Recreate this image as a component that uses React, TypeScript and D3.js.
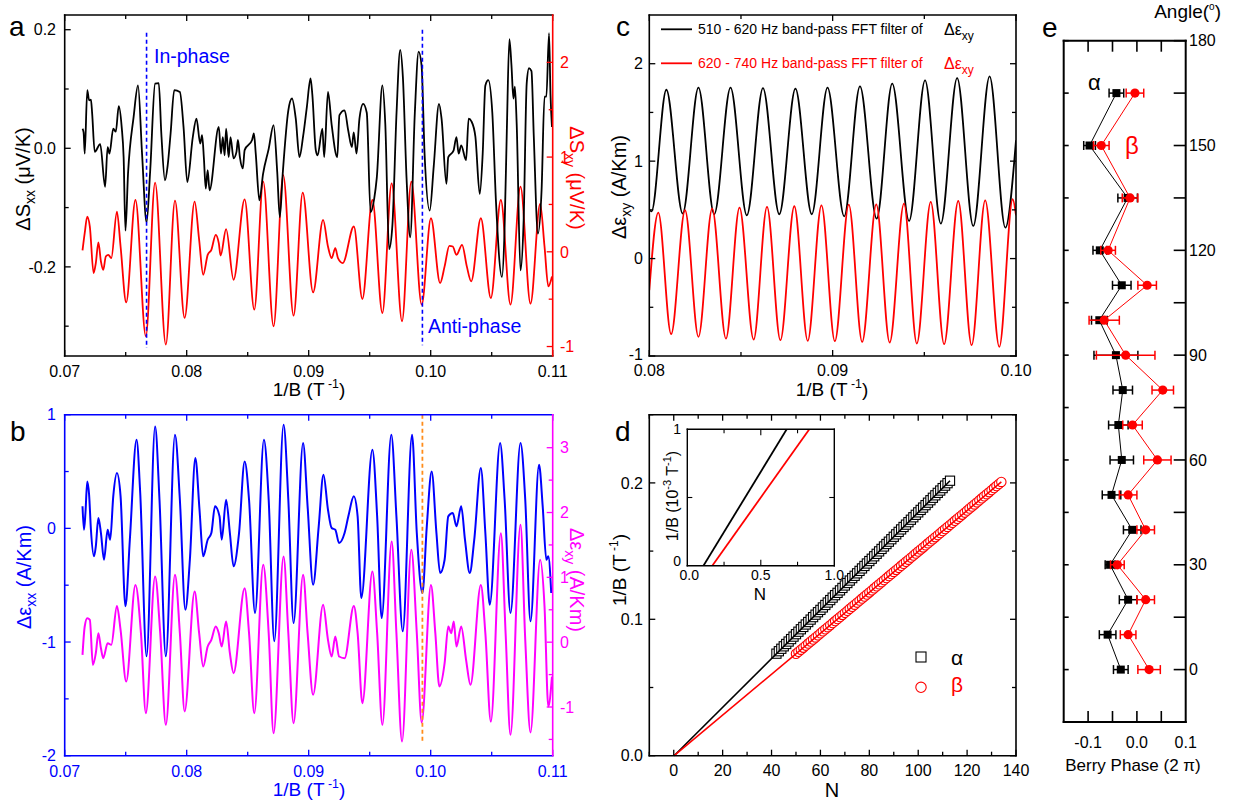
import React from "react";
import * as d3 from "d3";

const FONT = "'Liberation Sans', Arial, Helvetica, sans-serif";

// ---------- Panel a: ΔSxx (left, black) and ΔSxy (right, red) vs 1/B ----------
const aSxx: [number, number][] = [
  [0.07146,0.033],[0.07155,0.027],[0.07164,-0.009],[0.07185,0.098],[0.072,0.081],[0.07215,0.082],[0.07225,0.059],[0.07246,-0.006],[0.07291,0.007],[0.07331,-0.065],[0.07352,0.002],[0.07367,-0.009],[0.07398,0.033],[0.07419,0.028],[0.07443,0.071],[0.07467,0.036],[0.07483,-0.015],[0.07498,-0.139],[0.07519,-0.043],[0.07565,0.053],[0.07601,0.106],[0.07634,-0.009],[0.07671,-0.125],[0.07701,-0.037],[0.07741,0.109],[0.07771,0.110],[0.07792,0.025],[0.07822,-0.054],[0.07844,-0.029],[0.07868,0.025],[0.07898,0.098],[0.07944,0.095],[0.07974,0.036],[0.08005,-0.057],[0.0805,0.019],[0.0808,0.050],[0.08111,0.008],[0.08126,0.022],[0.08141,-0.017],[0.08156,-0.068],[0.08172,-0.037],[0.08187,-0.071],[0.08263,0.036],[0.08281,-0.009],[0.08296,0.019],[0.08311,-0.012],[0.08323,0.033],[0.08344,-0.015],[0.08359,0.019],[0.08384,-0.017],[0.08408,-0.006],[0.0842,0.014],[0.08436,-0.015],[0.0846,-0.034],[0.08475,-0.003],[0.08536,0.014],[0.08551,0.025],[0.08566,-0.009],[0.08596,-0.088],[0.08626,-0.043],[0.08672,-0.001],[0.08712,0.039],[0.08742,-0.04],[0.08763,-0.116],[0.08787,-0.043],[0.08833,0.064],[0.08863,0.084],[0.08894,0.05],[0.08924,-0.015],[0.08954,0.02],[0.08985,0.07],[0.09015,0.118],[0.0903,0.09],[0.09058,-0.003],[0.09073,-0.012],[0.09112,0.033],[0.09127,-0.015],[0.09158,0.095],[0.09188,0.04],[0.09234,-0.015],[0.09252,0.056],[0.09294,0.064],[0.09324,0.03],[0.09354,0.002],[0.09369,0.027],[0.09392,-0.009],[0.09416,0.05],[0.09446,0.075],[0.09476,0.06],[0.09507,-0.108],[0.09537,-0.085],[0.09558,-0.05],[0.09604,0.106],[0.09628,0.04],[0.09659,-0.170],[0.09686,-0.13],[0.0972,0.06],[0.0975,0.166],[0.09772,0.12],[0.09802,-0.05],[0.09832,-0.150],[0.0987,0.06],[0.09901,0.163],[0.09925,0.14],[0.0995,-0.01],[0.09992,-0.105],[0.10025,-0.03],[0.10068,0.075],[0.10089,0.05],[0.10129,-0.06],[0.10144,-0.015],[0.10187,-0.004],[0.10211,0.019],[0.10229,-0.009],[0.1025,0.005],[0.1029,-0.02],[0.10311,0.05],[0.10335,0.045],[0.10366,0.02],[0.10402,-0.077],[0.10426,-0.01],[0.10448,0.106],[0.10472,0.115],[0.10505,0.06],[0.10535,-0.09],[0.10584,-0.217],[0.10605,-0.14],[0.10624,0.03],[0.10645,0.184],[0.10662,0.14],[0.10678,0.084],[0.1069,0.104],[0.10705,0.04],[0.10736,-0.206],[0.10762,-0.12],[0.10787,0.11],[0.10806,0.135],[0.10826,0.13],[0.10845,0.02],[0.10879,-0.144],[0.10909,-0.07],[0.10933,0.087],[0.10948,0.087],[0.1097,0.194],[0.10982,0.09],[0.10994,0.036],
];
const aSxy: [number, number][] = [
  [0.07146,0.014],[0.07164,0.196],[0.07185,0.372],[0.07206,0.267],[0.07237,-0.225],[0.07255,-0.119],[0.07276,0.098],[0.07297,-0.102],[0.07316,-0.19],[0.07337,-0.049],[0.07358,-0.032],[0.07382,-0.067],[0.07428,0.425],[0.07458,0.056],[0.07504,-0.533],[0.0758,0.547],[0.07665,-0.891],[0.07741,0.73],[0.07829,-0.979],[0.07904,0.54],[0.07983,-0.698],[0.08065,0.53],[0.08102,0.126],[0.08135,-0.242],[0.08172,-0.032],[0.08202,0.021],[0.08238,0.179],[0.08263,0.091],[0.08278,-0.039],[0.08323,0.239],[0.08384,-0.295],[0.08475,0.554],[0.08554,-0.61],[0.08627,0.74],[0.08712,-0.786],[0.08791,0.81],[0.08876,-0.674],[0.08951,0.625],[0.09036,-0.428],[0.09118,0.337],[0.09158,0.056],[0.09188,-0.067],[0.09218,0.039],[0.0924,-0.067],[0.09279,-0.119],[0.0937,0.267],[0.0944,-0.498],[0.09522,0.547],[0.09604,-0.646],[0.0968,0.723],[0.09765,-0.733],[0.09841,0.74],[0.09926,-0.558],[0.10002,0.354],[0.10077,-0.33],[0.10114,-0.154],[0.10153,0.063],[0.10181,0.056],[0.10211,-0.032],[0.10257,0.074],[0.10296,-0.154],[0.10332,-0.312],[0.10411,0.354],[0.10493,-0.488],[0.10575,0.547],[0.10654,-0.558],[0.10736,0.688],[0.10818,-0.547],[0.10897,0.505],[0.10933,0.056],[0.10964,-0.365],[0.10994,-0.26],
];
const aInPhase = { x: 0.07671, y0: -0.337, y1: 0.195 };
const aAntiPhase = { x: 0.09932, y0: -0.332, y1: 0.2 };

// ---------- Panel b: Δεxx (left, blue) and Δεxy (right, magenta) ----------
const bExx: [number, number][] = [
  [0.07146,0.194],[0.07158,-0.012],[0.0717,0.135],[0.07185,0.413],[0.072,0.296],[0.07215,-0.012],[0.0724,-0.246],[0.07255,-0.158],[0.07276,0.091],[0.07297,-0.041],[0.07322,-0.276],[0.07352,-0.012],[0.07373,-0.1],[0.07398,0.282],[0.07428,0.487],[0.07458,0.282],[0.07498,-0.686],[0.07534,-0.1],[0.07589,0.78],[0.07619,0.311],[0.07671,-1.126],[0.07741,0.897],[0.07777,0.252],[0.07829,-1.126],[0.07904,0.824],[0.07944,0.252],[0.07989,-0.716],[0.08026,-0.276],[0.08071,0.619],[0.08105,0.164],[0.08135,-0.246],[0.08172,-0.1],[0.08202,-0.041],[0.08232,0.194],[0.08269,0.106],[0.08287,-0.1],[0.08323,0.252],[0.08354,-0.041],[0.08384,-0.334],[0.08429,-0.041],[0.08475,0.589],[0.08511,0.252],[0.0856,-0.745],[0.08633,0.78],[0.08672,0.252],[0.08718,-0.994],[0.08794,0.912],[0.08833,0.252],[0.08876,-0.833],[0.08954,0.751],[0.08991,0.194],[0.09036,-0.496],[0.09082,0.018],[0.09121,0.472],[0.09158,0.164],[0.09188,0.003],[0.09218,-0.012],[0.09249,-0.129],[0.09294,-0.041],[0.09325,0.106],[0.0937,0.282],[0.09401,0.106],[0.09431,-0.613],[0.09522,0.692],[0.09561,0.106],[0.09598,-0.789],[0.09677,0.824],[0.09719,0.106],[0.09771,-0.906],[0.09847,0.824],[0.09886,-0.041],[0.09932,-0.569],[0.09968,0.018],[0.10008,0.501],[0.10047,-0.041],[0.10077,-0.393],[0.10114,-0.276],[0.10144,0.106],[0.10181,0.135],[0.10211,0.018],[0.1025,0.194],[0.10281,-0.1],[0.1032,-0.393],[0.10357,-0.1],[0.10411,0.531],[0.10448,-0.041],[0.10484,-0.672],[0.10569,0.751],[0.10606,0.252],[0.10654,-0.745],[0.10736,0.751],[0.10775,0.252],[0.10818,-0.818],[0.10888,0.56],[0.10918,0.194],[0.10948,-0.276],[0.10964,-0.246],[0.10988,-0.569],
];
const bExy: [number, number][] = [
  [0.07146,-0.195],[0.07164,0.242],[0.07185,0.37],[0.07206,0.344],[0.07231,-0.35],[0.07255,-0.17],[0.07276,0.139],[0.07297,-0.093],[0.07316,-0.247],[0.07352,-0.015],[0.07382,-0.041],[0.07428,0.56],[0.07458,0.19],[0.07504,-0.607],[0.0758,0.884],[0.07625,0.139],[0.07665,-1.095],[0.07741,1.013],[0.07783,0.139],[0.07829,-1.275],[0.07904,1.039],[0.07944,0.139],[0.07983,-1.069],[0.08065,0.781],[0.08102,0.139],[0.08135,-0.375],[0.08172,-0.067],[0.08202,0.036],[0.08238,0.242],[0.08263,0.139],[0.08287,-0.067],[0.08323,0.319],[0.08354,-0.17],[0.08384,-0.478],[0.08475,0.833],[0.08511,0.139],[0.08554,-1.095],[0.08627,1.193],[0.08672,0.139],[0.08712,-1.404],[0.08794,1.321],[0.08833,0.139],[0.08876,-1.249],[0.08954,1.039],[0.08991,0.139],[0.09036,-0.812],[0.09118,0.576],[0.09158,0.036],[0.09188,-0.221],[0.09218,0.087],[0.09249,-0.221],[0.09294,-0.247],[0.0937,0.56],[0.09401,0.139],[0.0944,-0.941],[0.09522,1.09],[0.09561,0.139],[0.09604,-1.275],[0.0968,1.553],[0.09719,0.139],[0.09765,-1.532],[0.09841,1.424],[0.09886,0.139],[0.09926,-1.239],[0.10002,0.884],[0.10038,0.139],[0.10071,-0.684],[0.10114,-0.324],[0.10144,0.242],[0.10168,0.139],[0.10189,0.319],[0.10211,-0.067],[0.1025,0.242],[0.1029,-0.272],[0.10326,-0.658],[0.10411,0.884],[0.10448,0.139],[0.10493,-1.224],[0.10575,1.681],[0.10614,0.139],[0.10654,-1.429],[0.10736,1.81],[0.10775,0.036],[0.10818,-1.393],[0.10897,1.27],[0.10933,0.55],[0.10964,-0.992],[0.10994,-0.53],
];
const bMarker = { x: 0.09932, y0: -1.87, y1: 1.0 };

// ---------- Panel c: band-pass filtered Δεxy ----------
const cBand1: [number, number][] = [
  [0.08,0.50],[0.08012,0.485],[0.08093,1.733],[0.08182,0.462],[0.08268,1.754],[0.08354,0.455],[0.08443,1.754],[0.08532,0.444],[0.0862,1.75],[0.08709,0.455],[0.08797,1.744],[0.08886,0.455],[0.08972,1.754],[0.09063,0.434],[0.09149,1.768],[0.0924,0.41],[0.09325,1.795],[0.09417,0.386],[0.09504,1.829],[0.0959,0.359],[0.09679,1.853],[0.09767,0.335],[0.09856,1.87],[0.09942,0.318],[0.1,1.214],
];
const cBand2: [number, number][] = [
  [0.08,-0.325],[0.08049,0.472],[0.08119,-0.776],[0.08195,0.496],[0.08268,-0.803],[0.08343,0.513],[0.08418,-0.821],[0.08492,0.523],[0.08569,-0.831],[0.08642,0.53],[0.08715,-0.838],[0.08791,0.537],[0.08864,-0.844],[0.08939,0.547],[0.09012,-0.848],[0.09088,0.554],[0.09161,-0.855],[0.09238,0.557],[0.09311,-0.862],[0.09389,0.564],[0.09459,-0.872],[0.09535,0.581],[0.09608,-0.879],[0.09685,0.591],[0.09758,-0.889],[0.09832,0.598],[0.09909,-0.906],[0.09982,0.609],[0.1,0.444],
];
const cLegend = ["510 - 620 Hz band-pass FFT filter of", "620 - 740 Hz band-pass FFT filter of"];

// ---------- Panel d: Landau level fan ----------
const dAlphaN = [42,43,44,45,46,47,48,49,50,51,52,53,54,55,56,57,58,59,60,61,62,63,64,65,66,67,68,69,70,71,72,73,74,75,76,77,78,79,80,81,82,83,84,85,86,87,88,89,90,91,92,93,94,95,96,97,98,99,100,101,102,103,104,105,106,107,108,109,110,111,112,113];
const dAlphaInvB = [0.0748,0.0766,0.0784,0.0802,0.0819,0.0837,0.0855,0.0873,0.0891,0.0909,0.0927,0.0944,0.0962,0.0980,0.0998,0.1016,0.1034,0.1052,0.1069,0.1087,0.1105,0.1123,0.1141,0.1159,0.1177,0.1194,0.1212,0.1230,0.1248,0.1266,0.1284,0.1302,0.1319,0.1337,0.1355,0.1373,0.1391,0.1409,0.1427,0.1444,0.1462,0.1480,0.1498,0.1516,0.1534,0.1552,0.1569,0.1587,0.1605,0.1623,0.1641,0.1659,0.1677,0.1694,0.1712,0.1730,0.1748,0.1766,0.1784,0.1802,0.1819,0.1837,0.1855,0.1873,0.1891,0.1909,0.1927,0.1944,0.1962,0.1980,0.1998,0.2016];
const dBetaN = [50,51,52,53,54,55,56,57,58,59,60,61,62,63,64,65,66,67,68,69,70,71,72,73,74,75,76,77,78,79,80,81,82,83,84,85,86,87,88,89,90,91,92,93,94,95,96,97,98,99,100,101,102,103,104,105,106,107,108,109,110,111,112,113,114,115,116,117,118,119,120,121,122,123,124,125,126,127,128,129,130,131,132,133,134];
const dBetaInvB = [0.0747,0.0762,0.0777,0.0792,0.0807,0.0822,0.0837,0.0852,0.0867,0.0882,0.0897,0.0912,0.0927,0.0942,0.0957,0.0972,0.0987,0.1002,0.1017,0.1032,0.1047,0.1062,0.1077,0.1092,0.1107,0.1122,0.1137,0.1152,0.1167,0.1182,0.1197,0.1212,0.1227,0.1242,0.1257,0.1272,0.1287,0.1302,0.1317,0.1332,0.1347,0.1362,0.1377,0.1392,0.1407,0.1422,0.1437,0.1452,0.1467,0.1482,0.1497,0.1512,0.1527,0.1542,0.1557,0.1572,0.1587,0.1602,0.1617,0.1632,0.1647,0.1662,0.1677,0.1692,0.1707,0.1722,0.1737,0.1752,0.1767,0.1782,0.1797,0.1812,0.1827,0.1842,0.1857,0.1872,0.1887,0.1902,0.1917,0.1932,0.1947,0.1962,0.1977,0.1992,0.2007];
const dAlphaFit: [number, number][] = [[0.12, 0], [113, 0.2016]];
const dBetaFit: [number, number][] = [[0.17, 0], [134, 0.2007]];
const insetAlphaFit: [number, number][] = [[0.11, 0], [0.676, 1]];
const insetBetaFit: [number, number][] = [[0.17, 0], [0.83, 1]];

// ---------- Panel e: Berry phase vs angle ----------
const eAngles = [0, 10, 20, 30, 40, 50, 60, 70, 80, 90, 100, 110, 120, 135, 150, 165];
const eAlpha = [-0.033, -0.06, -0.018, -0.055, -0.0096, -0.052, -0.031, -0.038, -0.029, -0.043, -0.077, -0.031, -0.076, -0.019, -0.097, -0.042];
const eAlphaErr = [0.015, 0.017, 0.018, 0.01, 0.018, 0.019, 0.024, 0.02, 0.02, 0.045, 0.016, 0.019, 0.014, 0.02, 0.012, 0.015];
const eBeta = [0.025, -0.018, 0.018, -0.04, 0.018, -0.018, 0.042, -0.009, 0.053, -0.023, -0.067, 0.021, -0.059, -0.014, -0.073, -0.004];
const eBetaErr = [0.023, 0.016, 0.018, 0.014, 0.018, 0.018, 0.028, 0.02, 0.022, 0.06, 0.031, 0.019, 0.015, 0.016, 0.016, 0.018];

// tick values and labels
const abXMajor = [0.07, 0.08, 0.09, 0.10, 0.11];
const abXLabels = ["0.07", "0.08", "0.09", "0.10", "0.11"];
const abXMinor = [0.075, 0.085, 0.095, 0.105];
const aYLMajor = [-0.2, 0, 0.2];
const aYLLabels = ["-0.2", "0.0", "0.2"];
const aYLMinor = [-0.3, -0.1, 0.1];
const aYRMajor = [-1, 0, 1, 2];
const aYRLabels = ["-1", "0", "1", "2"];
const aYRMinor = [-0.5, 0.5, 1.5];
const bYLMajor = [-2, -1, 0, 1];
const bYLLabels = ["-2", "-1", "0", "1"];
const bYLMinor = [-1.5, -0.5, 0.5];
const bYRMajor = [-1, 0, 1, 2, 3];
const bYRLabels = ["-1", "0", "1", "2", "3"];
const bYRMinor = [-1.5, -0.5, 0.5, 1.5, 2.5];
const cXMajor = [0.08, 0.09, 0.10];
const cXLabels = ["0.08", "0.09", "0.10"];
const cXMinor = [0.085, 0.095];
const cYMajor = [-1, 0, 1, 2];
const cYLabels = ["-1", "0", "1", "2"];
const cYMinor = [-0.5, 0.5, 1.5];
const dXMajor = [0, 20, 40, 60, 80, 100, 120, 140];
const dXMinor = [-10, 10, 30, 50, 70, 90, 110, 130];
const dYMajor = [0, 0.1, 0.2];
const dYLabels = ["0.0", "0.1", "0.2"];
const dYMinor = [0.05, 0.15, 0.25];
const iXMajor = [0, 0.5, 1];
const iXLabels = ["0.0", "0.5", "1.0"];
const iXMinor = [0.25, 0.75];
const iYLabels = ["0", "1"];
const eYTicks = [0, 15, 30, 45, 60, 75, 90, 105, 120, 135, 150, 165, 180];
const eYMajor = [0, 30, 60, 90, 120, 150, 180];
const eXTicks = [-0.1, -0.05, 0, 0.05];
const eXMajor = [-0.1, 0, 0.1];
const eXLabels = ["-0.1", "0.0", "0.1"];

type Lin = d3.ScaleLinear<number, number>;

function hTicks(s: Lin, vals: number[], y: number, len: number, color: string, k: string, w = 1.3) {
  return vals.map((v, i) => <line key={k + i} x1={s(v)} x2={s(v)} y1={y} y2={y + len} stroke={color} strokeWidth={w} />);
}
function vTicks(s: Lin, vals: number[], x: number, len: number, color: string, k: string, w = 1.3) {
  return vals.map((v, i) => <line key={k + i} x1={x} x2={x + len} y1={s(v)} y2={s(v)} stroke={color} strokeWidth={w} />);
}
function Frame({ x0, x1, y0, y1, top = "#000", right = "#000", bottom = "#000", left = "#000", w = 1.6 }: any) {
  return (
    <g strokeWidth={w} strokeLinecap="square">
      <line x1={x0} x2={x1} y1={y0} y2={y0} stroke={top} />
      <line x1={x0} x2={x1} y1={y1} y2={y1} stroke={bottom} />
      <line x1={x0} x2={x0} y1={y0} y2={y1} stroke={left} />
      <line x1={x1} x2={x1} y1={y0} y2={y1} stroke={right} />
    </g>
  );
}

const InvBTitle = ({ x, y, color = "#000", size = 19 }: any) => (
  <text x={x} y={y} textAnchor="middle" fontSize={size} fill={color}>
    1/B (T<tspan dy={-8} fontSize={size * 0.65}> -1</tspan><tspan dy={8}>)</tspan>
  </text>
);

export default function App() {
  // panel a
  const aX = d3.scaleLinear().domain([0.07, 0.11]).range([64.7, 552.7]);
  const aYL = d3.scaleLinear().domain([-0.3503, 0.2248]).range([356, 15]);
  const aYR = d3.scaleLinear().domain([-1.10, 2.5]).range([356, 15]);
  // panel b
  const bX = d3.scaleLinear().domain([0.07, 0.11]).range([64.7, 552.7]);
  const bYL = d3.scaleLinear().domain([-2, 1]).range([755.7, 414.7]);
  const bYR = d3.scaleLinear().domain([-1.751, 3.509]).range([755.7, 414.7]);
  // panel c
  const cX = d3.scaleLinear().domain([0.08, 0.10]).range([649.3, 1016]);
  const cY = d3.scaleLinear().domain([-1, 2.5]).range([356, 15]);
  // panel d
  const dX = d3.scaleLinear().domain([-10, 140]).range([649.3, 1016]);
  const dY = d3.scaleLinear().domain([0, 0.25]).range([755.7, 414.7]);
  const iX = d3.scaleLinear().domain([0, 1]).range([687.3, 834.3]);
  const iY = d3.scaleLinear().domain([0, 1]).range([565.7, 429.3]);
  // panel e
  const eX = d3.scaleLinear().domain([-0.15, 0.1]).range([1063.7, 1185.7]);
  const eY = d3.scaleLinear().domain([-15, 180]).range([722, 40.7]);

  const mk = (xs: Lin, ys: Lin) =>
    d3.line<[number, number]>().x((d) => xs(d[0])).y((d) => ys(d[1])).curve(d3.curveMonotoneX);
  const straight = (xs: Lin, ys: Lin) => d3.line<[number, number]>().x((d) => xs(d[0])).y((d) => ys(d[1]));

  const red = "#ff0000";
  const blue = "#0000ff";
  const mag = "#ff00ff";
  const orange = "#ff8c1a";

  const ePairsA: [number, number][] = eAngles.map((a, i) => [eAlpha[i], a]);
  const ePairsB: [number, number][] = eAngles.map((a, i) => [eBeta[i], a]);
  const eLine = d3.line<[number, number]>().x((d) => eX(d[0])).y((d) => eY(d[1]));

  return (
    <svg width={1243} height={804} viewBox="0 0 1243 804" style={{ position: "absolute", left: 0, top: 0, background: "#fff" }} fontFamily={FONT}>
      <defs>
        <clipPath id="clipA"><rect x={64.7} y={15} width={488} height={341} /></clipPath>
        <clipPath id="clipB"><rect x={64.7} y={414.7} width={488} height={341} /></clipPath>
        <clipPath id="clipC"><rect x={649.3} y={15} width={366.7} height={341} /></clipPath>
        <clipPath id="clipI"><rect x={687.3} y={429.3} width={147} height={136.4} /></clipPath>
      </defs>
      <rect x={0} y={0} width={1243} height={804} fill="#fff" />

      {/* ================= Panel a ================= */}
      <g>
        <text x={9} y={36} fontSize={28}>a</text>
        <g clipPath="url(#clipA)">
          <path d={mk(aX, aYR)(aSxy) || ""} fill="none" stroke={red} strokeWidth={1.8} />
          <path d={mk(aX, aYL)(aSxx) || ""} fill="none" stroke="#000" strokeWidth={1.8} />
          <line x1={aX(aInPhase.x)} x2={aX(aInPhase.x)} y1={aYL(aInPhase.y1)} y2={aYL(aInPhase.y0)} stroke={blue} strokeWidth={1.6} strokeDasharray="4,3" />
          <line x1={aX(aAntiPhase.x)} x2={aX(aAntiPhase.x)} y1={aYL(aAntiPhase.y1)} y2={aYL(aAntiPhase.y0)} stroke={blue} strokeWidth={1.6} strokeDasharray="4,3" />
        </g>
        <text x={154} y={63} fontSize={19.5} fill={blue}>In-phase</text>
        <text x={428} y={333} fontSize={19.5} fill={blue}>Anti-phase</text>
        {hTicks(aX, abXMajor, 356, -6, "#000", "aXb")}
        {hTicks(aX, abXMinor, 356, -4, "#000", "aXbm")}
        {hTicks(aX, abXMajor, 15, 6, "#000", "aXt")}
        {hTicks(aX, abXMinor, 15, 4, "#000", "aXtm")}
        {vTicks(aYL, aYLMajor, 64.7, 6, "#000", "aYL")}
        {vTicks(aYL, aYLMinor, 64.7, 4, "#000", "aYLm")}
        {vTicks(aYR, aYRMajor, 552.7, -6, red, "aYR")}
        {vTicks(aYR, aYRMinor, 552.7, -4, red, "aYRm")}
        <Frame x0={64.7} x1={552.7} y0={15} y1={356} right={red} />
        {abXMajor.map((v, i) => <text key={"aXl" + i} x={aX(v)} y={377} textAnchor="middle" fontSize={16}>{abXLabels[i]}</text>)}
        {aYLMajor.map((v, i) => <text key={"aYLl" + i} x={56} y={aYL(v) + 5.7} textAnchor="end" fontSize={16}>{aYLLabels[i]}</text>)}
        {aYRMajor.map((v, i) => <text key={"aYRl" + i} x={560} y={aYR(v) + 5.7} textAnchor="start" fontSize={16} fill={red}>{aYRLabels[i]}</text>)}
        <InvBTitle x={309} y={396} />
        <text transform="translate(29.5,179) rotate(-90)" textAnchor="middle" fontSize={20}>
          ΔS<tspan dy={5} fontSize={14}>xx</tspan><tspan dy={-5}> (μV/K)</tspan>
        </text>
        <text transform="translate(570,178) rotate(90)" textAnchor="middle" fontSize={20} fill={red}>
          ΔS<tspan dy={5} fontSize={14}>xy</tspan><tspan dy={-5}> (μV/K)</tspan>
        </text>
      </g>

      {/* ================= Panel b ================= */}
      <g>
        <text x={10} y={441} fontSize={28}>b</text>
        <g clipPath="url(#clipB)">
          <path d={mk(bX, bYR)(bExy) || ""} fill="none" stroke={mag} strokeWidth={2} />
          <path d={mk(bX, bYL)(bExx) || ""} fill="none" stroke={blue} strokeWidth={2} />
          <line x1={bX(bMarker.x)} x2={bX(bMarker.x)} y1={bYL(bMarker.y1)} y2={bYL(bMarker.y0)} stroke={orange} strokeWidth={1.8} strokeDasharray="4,3" />
        </g>
        {hTicks(bX, abXMajor, 755.7, -6, blue, "bXb")}
        {hTicks(bX, abXMinor, 755.7, -4, blue, "bXbm")}
        {hTicks(bX, abXMajor, 414.7, 6, blue, "bXt")}
        {hTicks(bX, abXMinor, 414.7, 4, blue, "bXtm")}
        {vTicks(bYL, bYLMajor, 64.7, 6, blue, "bYL")}
        {vTicks(bYL, bYLMinor, 64.7, 4, blue, "bYLm")}
        {vTicks(bYR, bYRMajor, 552.7, -6, mag, "bYR")}
        {vTicks(bYR, bYRMinor, 552.7, -4, mag, "bYRm")}
        <Frame x0={64.7} x1={552.7} y0={414.7} y1={755.7} top={blue} left={blue} bottom={blue} right={mag} />
        {abXMajor.map((v, i) => <text key={"bXl" + i} x={bX(v)} y={777} textAnchor="middle" fontSize={16} fill={blue}>{abXLabels[i]}</text>)}
        {bYLMajor.map((v, i) => <text key={"bYLl" + i} x={56} y={bYL(v) + 5.7} textAnchor="end" fontSize={16} fill={blue}>{bYLLabels[i]}</text>)}
        {bYRMajor.map((v, i) => <text key={"bYRl" + i} x={560} y={bYR(v) + 5.7} textAnchor="start" fontSize={16} fill={mag}>{bYRLabels[i]}</text>)}
        <InvBTitle x={309} y={796} color={blue} />
        <text transform="translate(30.5,577) rotate(-90)" textAnchor="middle" fontSize={20} fill={blue}>
          Δε<tspan dy={5} fontSize={14}>xx</tspan><tspan dy={-5}> (A/Km)</tspan>
        </text>
        <text transform="translate(570,580) rotate(90)" textAnchor="middle" fontSize={20} fill={mag}>
          Δε<tspan dy={5} fontSize={14}>xy</tspan><tspan dy={-5}> (A/Km)</tspan>
        </text>
      </g>

      {/* ================= Panel c ================= */}
      <g>
        <text x={616} y={36} fontSize={28}>c</text>
        <g clipPath="url(#clipC)">
          <path d={mk(cX, cY)(cBand1) || ""} fill="none" stroke="#000" strokeWidth={1.8} />
          <path d={mk(cX, cY)(cBand2) || ""} fill="none" stroke={red} strokeWidth={1.8} />
        </g>
        {hTicks(cX, cXMajor, 356, -6, "#000", "cXb")}
        {hTicks(cX, cXMinor, 356, -4, "#000", "cXbm")}
        {hTicks(cX, cXMajor, 15, 6, "#000", "cXt")}
        {hTicks(cX, cXMinor, 15, 4, "#000", "cXtm")}
        {vTicks(cY, cYMajor, 649.3, 6, "#000", "cYL")}
        {vTicks(cY, cYMinor, 649.3, 4, "#000", "cYLm")}
        {vTicks(cY, cYMajor, 1016, -6, "#000", "cYR")}
        {vTicks(cY, cYMinor, 1016, -4, "#000", "cYRm")}
        <Frame x0={649.3} x1={1016} y0={15} y1={356} />
        {cXMajor.map((v, i) => <text key={"cXl" + i} x={cX(v)} y={376} textAnchor="middle" fontSize={16}>{cXLabels[i]}</text>)}
        {cYMajor.map((v, i) => <text key={"cYl" + i} x={643} y={cY(v) + (v === -1 ? 3.5 : 5.7)} textAnchor="end" fontSize={16}>{cYLabels[i]}</text>)}
        <line x1={661} x2={692} y1={29.3} y2={29.3} stroke="#000" strokeWidth={1.8} />
        <text x={698} y={34.3} fontSize={14}>{cLegend[0]}</text>
        <text x={944} y={35} fontSize={16}>Δε<tspan dy={5} fontSize={12}>xy</tspan></text>
        <line x1={661} x2={692} y1={63.3} y2={63.3} stroke={red} strokeWidth={1.8} />
        <text x={698} y={68.3} fontSize={14} fill={red}>{cLegend[1]}</text>
        <text x={944} y={69} fontSize={16} fill={red}>Δε<tspan dy={5} fontSize={12}>xy</tspan></text>
        <InvBTitle x={832} y={396} />
        <text transform="translate(626,187) rotate(-90)" textAnchor="middle" fontSize={20}>
          Δε<tspan dy={5} fontSize={14}>xy</tspan><tspan dy={-5}> (A/Km)</tspan>
        </text>
      </g>

      {/* ================= Panel d ================= */}
      <g>
        <text x={615} y={441} fontSize={28}>d</text>
        {dAlphaN.map((n, i) => (
          <rect key={"sq" + i} x={dX(n) - 4.6} y={dY(dAlphaInvB[i]) - 4.6} width={9.2} height={9.2} fill="#fff" stroke="#000" strokeWidth={1.1} />
        ))}
        {dBetaN.map((n, i) => (
          <circle key={"ci" + i} cx={dX(n)} cy={dY(dBetaInvB[i])} r={4.7} fill="#fff" stroke={red} strokeWidth={1.1} />
        ))}
        <path d={straight(dX, dY)(dAlphaFit) || ""} stroke="#000" strokeWidth={1.6} fill="none" />
        <path d={straight(dX, dY)(dBetaFit) || ""} stroke={red} strokeWidth={1.6} fill="none" />
        {hTicks(dX, dXMajor, 755.7, -6, "#000", "dXb")}
        {hTicks(dX, dXMinor, 755.7, -4, "#000", "dXbm")}
        {hTicks(dX, dXMajor, 414.7, 6, "#000", "dXt")}
        {hTicks(dX, dXMinor, 414.7, 4, "#000", "dXtm")}
        {vTicks(dY, dYMajor, 649.3, 6, "#000", "dYL")}
        {vTicks(dY, dYMinor, 649.3, 4, "#000", "dYLm")}
        {vTicks(dY, dYMajor, 1016, -6, "#000", "dYR")}
        {vTicks(dY, dYMinor, 1016, -4, "#000", "dYRm")}
        <Frame x0={649.3} x1={1016} y0={414.7} y1={755.7} />
        {dXMajor.map((v, i) => <text key={"dXl" + i} x={dX(v)} y={776} textAnchor="middle" fontSize={16}>{String(v)}</text>)}
        {dYMajor.map((v, i) => <text key={"dYl" + i} x={643} y={dY(v) + 5.7} textAnchor="end" fontSize={16}>{dYLabels[i]}</text>)}
        <text x={832} y={797} textAnchor="middle" fontSize={20}>N</text>
        <text transform="translate(626,570) rotate(-90)" textAnchor="middle" fontSize={19}>
          1/B (T<tspan dy={-8} fontSize={12}> -1</tspan><tspan dy={8}>)</tspan>
        </text>
        {/* legend */}
        <rect x={916} y={652} width={10} height={10} fill="#fff" stroke="#000" strokeWidth={1.1} />
        <text x={951} y={665} fontSize={21}>α</text>
        <circle cx={921} cy={687.3} r={5.2} fill="#fff" stroke={red} strokeWidth={1.1} />
        <text x={951} y={692} fontSize={21} fill={red}>β</text>
        {/* inset */}
        <rect x={687.3} y={429.3} width={147} height={136.4} fill="#fff" />
        <g clipPath="url(#clipI)">
          <path d={straight(iX, iY)(insetAlphaFit) || ""} stroke="#000" strokeWidth={1.8} fill="none" />
          <path d={straight(iX, iY)(insetBetaFit) || ""} stroke={red} strokeWidth={1.8} fill="none" />
        </g>
        {hTicks(iX, iXMinor, 565.7, -4, "#000", "iXb", 1.1)}
        {hTicks(iX, iXMajor.slice(1, 2), 565.7, -6, "#000", "iXbM", 1.1)}
        {hTicks(iX, iXMinor, 429.3, 4, "#000", "iXt", 1.1)}
        {hTicks(iX, iXMajor.slice(1, 2), 429.3, 6, "#000", "iXtM", 1.1)}
        {vTicks(iY, [0.5], 687.3, 5, "#000", "iYL", 1.1)}
        {vTicks(iY, [0.5], 834.3, -5, "#000", "iYR", 1.1)}
        <Frame x0={687.3} x1={834.3} y0={429.3} y1={565.7} w={1.4} />
        {iXMajor.map((v, i) => <text key={"iXl" + i} x={iX(v) + (v === 0 ? 2 : 0)} y={580} textAnchor="middle" fontSize={14}>{iXLabels[i]}</text>)}
        {[0, 1].map((v, i) => <text key={"iYl" + i} x={681} y={iY(v) + (v === 0 ? 0 : 5)} textAnchor="end" fontSize={14}>{iYLabels[i]}</text>)}
        <text x={760} y={600} textAnchor="middle" fontSize={17}>N</text>
        <text transform="translate(678,496) rotate(-90)" textAnchor="middle" fontSize={16}>
          1/B (10<tspan dy={-7} fontSize={11}>-3</tspan><tspan dy={7}> T</tspan><tspan dy={-7} fontSize={11}>-1</tspan><tspan dy={7}>)</tspan>
        </text>
      </g>

      {/* ================= Panel e ================= */}
      <g>
        <text x={1042} y={37} fontSize={28}>e</text>
        <text x={1221} y={18} textAnchor="end" fontSize={19}>
          Angle(<tspan dy={-8} fontSize={10}>o</tspan><tspan dy={8}>)</tspan>
        </text>
        {/* alpha */}
        <path d={eLine(ePairsA) || ""} fill="none" stroke="#000" strokeWidth={1} />
        {eAngles.map((a, i) => (
          <g key={"ea" + i} stroke="#000" strokeWidth={1.5}>
            <line x1={eX(eAlpha[i] - eAlphaErr[i])} x2={eX(eAlpha[i] + eAlphaErr[i])} y1={eY(a)} y2={eY(a)} />
            <line x1={eX(eAlpha[i] - eAlphaErr[i])} x2={eX(eAlpha[i] - eAlphaErr[i])} y1={eY(a) - 4.5} y2={eY(a) + 4.5} />
            <line x1={eX(eAlpha[i] + eAlphaErr[i])} x2={eX(eAlpha[i] + eAlphaErr[i])} y1={eY(a) - 4.5} y2={eY(a) + 4.5} />
          </g>
        ))}
        {eAngles.map((a, i) => (
          <rect key={"eas" + i} x={eX(eAlpha[i]) - 4} y={eY(a) - 4} width={8} height={8} fill="#000" />
        ))}
        {/* beta */}
        <path d={eLine(ePairsB) || ""} fill="none" stroke={red} strokeWidth={1} />
        {eAngles.map((a, i) => (
          <g key={"eb" + i} stroke={red} strokeWidth={1.5}>
            <line x1={eX(eBeta[i] - eBetaErr[i])} x2={eX(eBeta[i] + eBetaErr[i])} y1={eY(a)} y2={eY(a)} />
            <line x1={eX(eBeta[i] - eBetaErr[i])} x2={eX(eBeta[i] - eBetaErr[i])} y1={eY(a) - 4.5} y2={eY(a) + 4.5} />
            <line x1={eX(eBeta[i] + eBetaErr[i])} x2={eX(eBeta[i] + eBetaErr[i])} y1={eY(a) - 4.5} y2={eY(a) + 4.5} />
          </g>
        ))}
        {eAngles.map((a, i) => (
          <circle key={"ebc" + i} cx={eX(eBeta[i])} cy={eY(a)} r={4.6} fill={red} />
        ))}
        <text x={1088} y={90} fontSize={22}>α</text>
        <text x={1125} y={154} fontSize={24} fill={red}>β</text>
        {vTicks(eY, eYTicks, 1063.7, 5, "#000", "eYL", 1.6)}
        {vTicks(eY, eYTicks, 1185.7, -12, "#000", "eYR", 1.6)}
        {hTicks(eX, eXTicks, 40.7, 11, "#000", "eXt", 1.6)}
        {hTicks(eX, eXTicks, 722, -11, "#000", "eXb", 1.6)}
        <Frame x0={1063.7} x1={1185.7} y0={40.7} y1={722} w={2} />
        {eYMajor.map((v, i) => <text key={"eYl" + i} x={1189} y={eY(v) + 5.7} fontSize={16}>{String(v)}</text>)}
        {eXMajor.map((v, i) => <text key={"eXl" + i} x={eX(v)} y={748} textAnchor="middle" fontSize={16}>{eXLabels[i]}</text>)}
        <text x={1133} y={771} textAnchor="middle" fontSize={17}>Berry Phase (2 π)</text>
      </g>
    </svg>
  );
}
